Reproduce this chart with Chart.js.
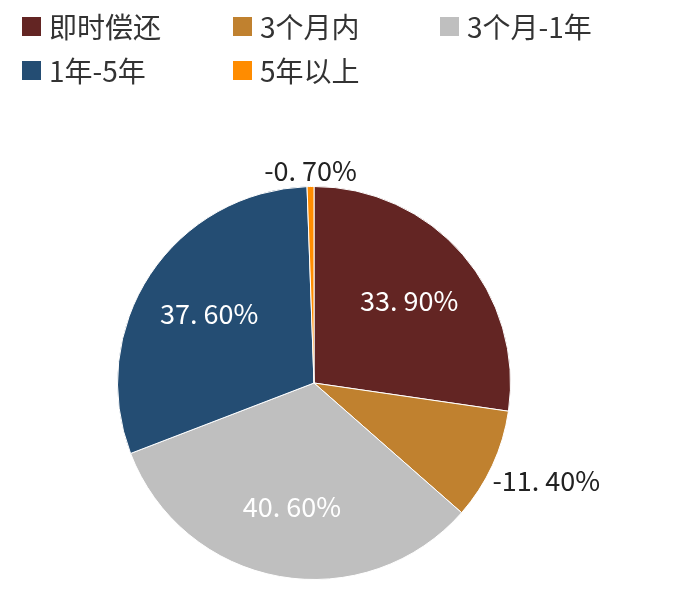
<!DOCTYPE html>
<html><head><meta charset="utf-8">
<script src="https://cdn.jsdelivr.net/npm/chart.js@4"></script>
<style>
body{margin:0;background:#fff;font-family:"Noto Sans CJK SC",sans-serif;}
#wrap{position:relative;width:700px;height:593px;}
#legend{position:absolute;left:22px;top:6px;display:grid;grid-template-columns:211px 207px 220px;row-gap:4px;font-size:28px;color:#333;}
.it{display:flex;align-items:center;white-space:nowrap;}
.bx{width:19px;height:19px;margin-right:8px;}
</style></head><body>
<div id="wrap"><div id="legend"></div><canvas id="c" width="700" height="593"></canvas></div>
<script>
const categories=["即时偿还","3个月内","3个月-1年","1年-5年","5年以上"];
const values=[33.9,-11.4,40.6,37.6,-0.7];
const colors=["#632523","#C0812F","#BFBFBF","#244D73","#FF8C00"];
const lg=document.getElementById('legend');
categories.forEach((c,i)=>{lg.innerHTML+=`<div class="it"><div class="bx" style="background:${colors[i]}"></div>${c}</div>`;});
const labelPlugin={id:'lbl',afterDatasetsDraw(chart){
 const ctx=chart.ctx;const meta=chart.getDatasetMeta(0);
 ctx.save();ctx.font='27px "Noto Sans CJK SC"';
 meta.data.forEach((a,i)=>{
  const mid=(a.startAngle+a.endAngle)/2;const R=a.outerRadius;
  const txt=values[i].toFixed(2).replace('.','. ')+'%';
  if(Math.abs(values[i])>5 && values[i]>0){
   ctx.fillStyle='#fff';ctx.textAlign='center';ctx.textBaseline='middle';
   const r=R*0.64;ctx.fillText(txt,a.x+Math.cos(mid)*r,a.y+Math.sin(mid)*r);
  }else{
   ctx.fillStyle='#222';
   if(Math.abs(values[i])>5){ctx.textAlign='left';ctx.textBaseline='middle';
    ctx.fillText(txt,a.x+Math.cos(mid)*R+0,a.y+Math.sin(mid)*R+15);}
   else{ctx.textAlign='center';ctx.textBaseline='bottom';
    ctx.fillText(txt,a.x+Math.cos(mid)*R,a.y+Math.sin(mid)*R-2);}
  }
 });ctx.restore();}};
new Chart(document.getElementById('c'),{type:'pie',
 data:{labels:categories,datasets:[{data:values.map(Math.abs),backgroundColor:colors,borderColor:'#fff',borderWidth:1}]},
 options:{responsive:false,animation:false,layout:{padding:{left:117,right:189,top:186,bottom:13}},
  plugins:{legend:{display:false},tooltip:{enabled:false}}},
 plugins:[labelPlugin]});
</script></body></html>
